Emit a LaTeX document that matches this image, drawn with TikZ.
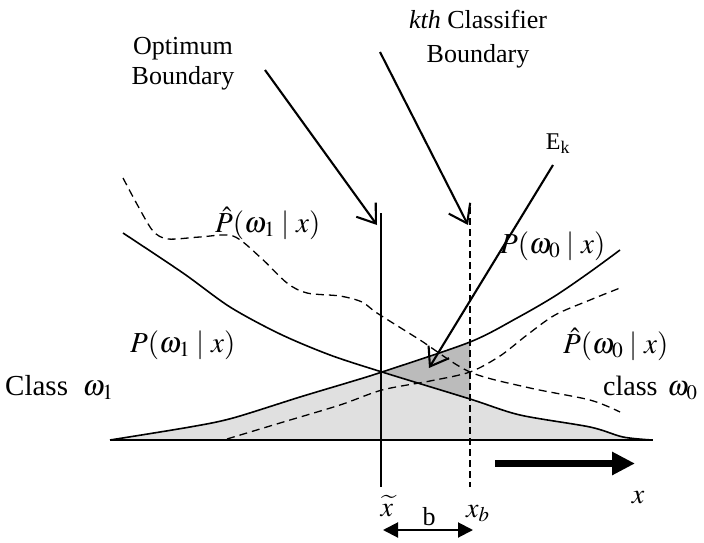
\documentclass[tikz,border=0pt]{standalone}
\usepackage{mathptmx}
\usepackage{fontspec}
\setmainfont{Liberation Serif}
\usetikzlibrary{arrows.meta}
\definecolor{lightfill}{HTML}{E0E0E0}
\definecolor{darkfill}{HTML}{BBBBBB}
\tikzset{
  curve/.style={line width=1.6pt},
  dcurve/.style={line width=1.3pt, dash pattern=on 8pt off 5pt},
  pointer/.style={line width=2.1pt, -{Straight Barb[length=17pt,width=24pt,line width=2.1pt]}},
  lbl/.style={inner sep=0pt, font=\fontsize{26}{30}\selectfont},
  mlbl/.style={inner sep=0pt, font=\fontsize{29}{34}\selectfont, anchor=base west},
}
\begin{document}
\begin{tikzpicture}[x=1pt,y=-1pt]
\useasboundingbox (0,0) rectangle (704,543);
% key points
\coordinate (optTop) at (381,213); \coordinate (optBot) at (381,487);
\coordinate (kTop) at (470,207);   \coordinate (kBot) at (470,487);
\coordinate (axL) at (110,440);    \coordinate (axR) at (653,440);
\coordinate (cross) at (382,372);  \coordinate (p0k) at (470,342); \coordinate (p1k) at (470,399);
% fills
\fill[lightfill] plot[smooth] coordinates {(110,440)(190,427)(233,418)(300,397)(350,382)(382,372)}
  -- plot[smooth] coordinates {(382,372)(470,399)(520,415)(590,427)(623,437)(652,440)} -- cycle;
\fill[darkfill] (cross) -- (p0k) -- (p1k) -- cycle;
% axis and boundaries
\draw[line width=1.8pt] (axL) -- (axR);
\draw[line width=1.3pt] (optTop) -- (optBot);
\draw[line width=1.3pt, dash pattern=on 7pt off 4pt] (kTop) -- (kBot);
% true posteriors
\draw[curve] plot[smooth] coordinates {(110,440)(190,427)(233,418)(300,397)(350,382)(382,372)(470,342)(517,318)(555,296)(590,272)(620,250)};
\draw[curve] plot[smooth] coordinates {(123,233)(183,273)(230,307)(280,334)(330,355)(382,372)(470,399)(520,415)(590,427)(623,437)(652,440)};
% estimated posteriors
\draw[dcurve] plot[smooth] coordinates {(123,178)(138,206)(153,231)(168,239)(200,237)(233,236)(260,257)(287,283)(307,293)(340,296)(362,302)(377,313)(420,340)(470,372)(530,388)(590,400)(620,412)};
\draw[dcurve] plot[smooth] coordinates {(227,439)(280,423)(340,405)(382,390)(430,381)(470,372)(500,356)(527,335)(555,315)(590,300)(620,288)};
% labels
\node[lbl, align=center, font=\fontsize{26}{30}\selectfont] (opttxt) at (183,64) {Optimum\\Boundary};
\node[lbl, align=center, font=\fontsize{26}{34}\selectfont] (kthtxt) at (478,39) {\textit{kth} Classifier\\Boundary};
\node[lbl, anchor=base, font=\fontsize{24}{28}\selectfont] (ektxt) at (558,149) {E\textsubscript{k}};
\node[mlbl] (phat1) at (215,232) {$\hat{P}(\omega_1\mid x)$};
\node[mlbl] (p0) at (500,253) {$P(\omega_0\mid x)$};
\node[mlbl] (p1) at (130,352) {$P(\omega_1\mid x)$};
\node[mlbl] (phat0) at (563,353) {$\hat{P}(\omega_0\mid x)$};
\node[lbl, anchor=base west, font=\fontsize{29}{34}\selectfont] (cls1) at (5,395) {Class\hspace{0.5em}$\omega_1$};
\node[lbl, anchor=base west, font=\fontsize{28}{34}\selectfont] (cls0) at (603,395) {class\hspace{0.35em}$\omega_0$};
\node[lbl, anchor=base, font=\fontsize{28}{34}\selectfont] (xt) at (387,516) {$\widetilde{x}$};
\node[lbl, anchor=base west, font=\fontsize{28}{34}\selectfont] (xb) at (466,517) {$x_b$};
\node[lbl, anchor=base] (btxt) at (429,525) {b};
\node[lbl, anchor=base, font=\fontsize{28}{34}\selectfont] (xlab) at (638,503) {$x$};
% pointer arrows
\coordinate (optS) at (265,70);  \coordinate (optE) at (377,225);
\coordinate (kS) at (380,52);    \coordinate (kE) at (468,225);
\coordinate (eS) at (553,165);   \coordinate (eE) at (429,368);
\draw[pointer] (optS) -- (optE);
\draw[pointer] (kS) -- (kE);
\draw[pointer] (eS) -- (eE);
% direction arrow
\coordinate (dirS) at (495,463.5); \coordinate (dirE) at (635,463.5);
\draw[line width=7pt, -{Triangle[length=23pt,width=22pt]}] (dirS) -- (dirE);
% width b
\coordinate (bL) at (383,530); \coordinate (bR) at (473,530);
\draw[line width=2pt, {Triangle[length=15pt,width=15pt]}-{Triangle[length=15pt,width=15pt]}] (bL) -- (bR);
\end{tikzpicture}
\end{document}
